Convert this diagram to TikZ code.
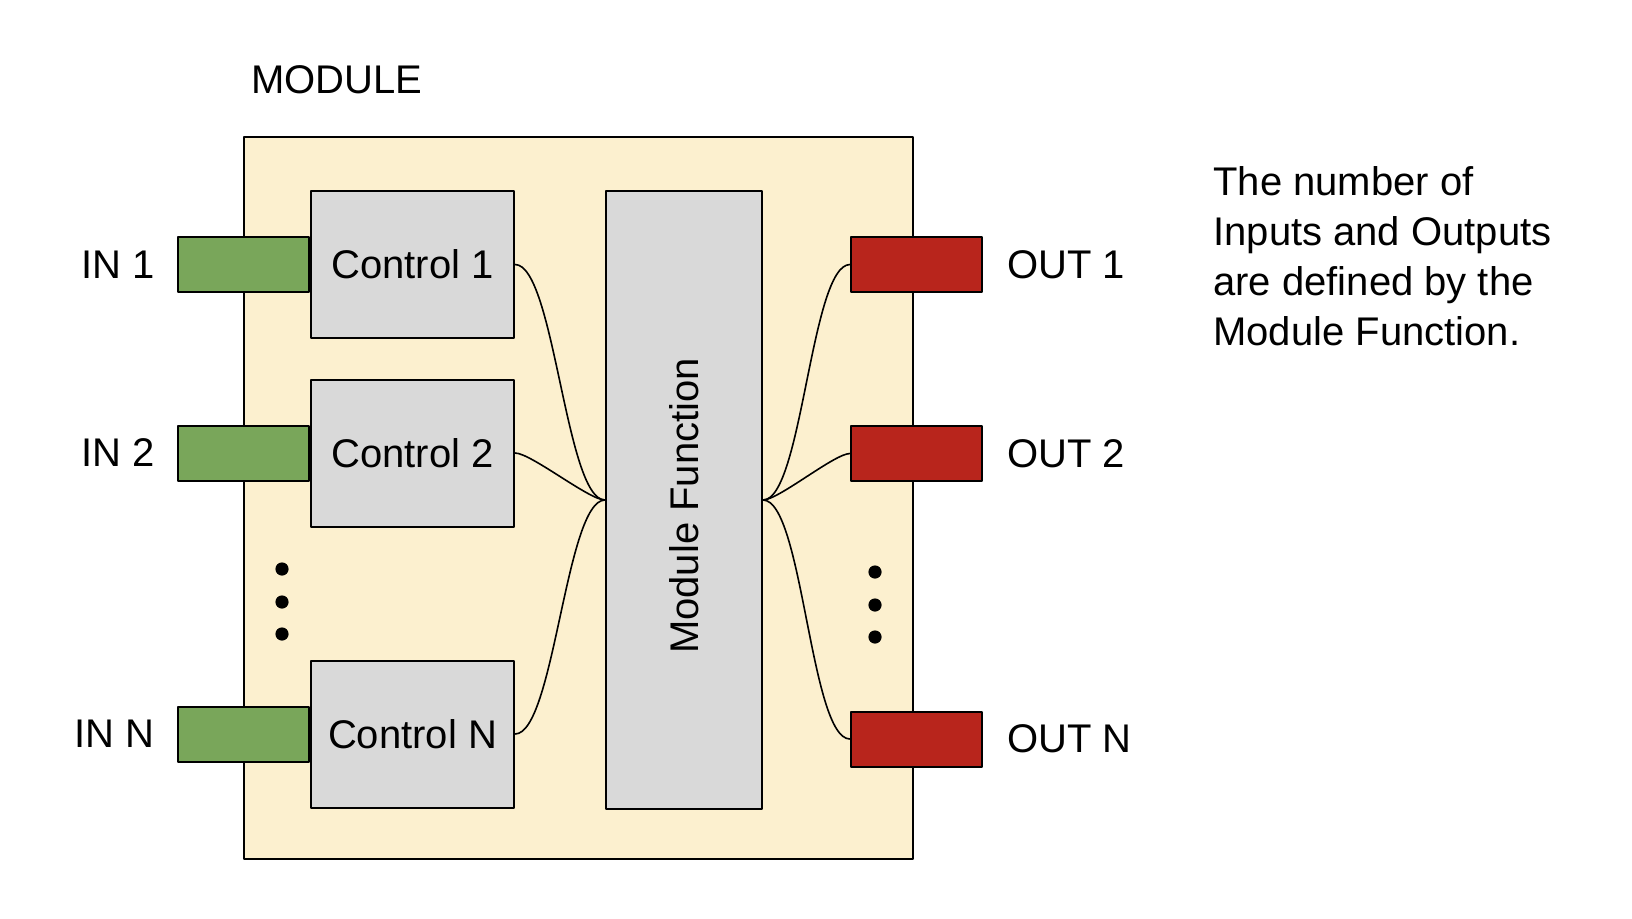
\documentclass[tikz,border=0pt]{standalone}
\usepackage{fontspec}
\setmainfont{Liberation Sans}
\usetikzlibrary{positioning}
\definecolor{modfill}{HTML}{FCF0CF}
\definecolor{boxgrey}{HTML}{D9D9D9}
\definecolor{ingreen}{HTML}{79A65A}
\definecolor{outred}{HTML}{B8251C}
\begin{document}
\begin{tikzpicture}[x=0.5pt,y=-0.5pt,line cap=round,line join=round,
	font=\fontsize{20}{25}\selectfont,
	frame/.style={draw=black,line width=1pt,inner sep=0pt},
	ctrl/.style={frame,fill=boxgrey,minimum width=101.5pt,minimum height=73.5pt},
	inport/.style={frame,fill=ingreen,minimum width=65.5pt,minimum height=27.5pt},
	outport/.style={frame,fill=outred,minimum width=65.5pt,minimum height=27.5pt},
	lbl/.style={inner sep=0pt},
	wire/.style={draw=black,line width=0.8pt,looseness=0.4}]
		\useasboundingbox (0,0) rectangle (1632,918);
		\node[frame,fill=modfill,minimum width=334.5pt,minimum height=361pt] (module) at (578.5,498) {};
		\node[lbl,anchor=west] (title) at (251,80) {MODULE};
		\node[inport] (ina) at (243.5,264.5) {};
		\node[inport] (inb) at (243.5,453) {};
		\node[inport] (inn) at (243.5,734) {};
		\node[ctrl,right=0pt of ina] (ctrla) {Control 1};
		\node[ctrl,right=0pt of inb] (ctrlb) {Control 2};
		\node[ctrl,right=0pt of inn] (ctrln) {Control N};
		\node[lbl,left=11pt of ina] (ina-l) {IN 1};
		\node[lbl,left=11pt of inb] (inb-l) {IN 2};
		\node[lbl,left=11pt of inn] (inn-l) {IN N};
		\node[frame,fill=boxgrey,minimum width=78pt,minimum height=309pt] (mf) at (684,500) {};
		\node[lbl,rotate=90] (mf-l) at (684,506) {Module Function};
		\node[outport] (outa) at (916.5,264.5) {};
		\node[outport] (outb) at (916.5,453.5) {};
		\node[outport] (outn) at (916.5,739) {};
		\node[lbl,right=12pt of outa] (outa-l) {OUT 1};
		\node[lbl,right=12pt of outb] (outb-l) {OUT 2};
		\node[lbl,right=12pt of outn] (outn-l) {OUT N};
		\foreach \y in {569,602,634}
		\fill [color=black] (282,\y) circle (3.3pt);
		\foreach \y in {572,605,637}
		\fill [color=black] (875,\y) circle (3.3pt);
		\draw[wire] (ctrla.east) to[out=0,in=180] (mf.west);
		\draw[wire] (ctrlb.east) to[out=0,in=180] (mf.west);
		\draw[wire] (ctrln.east) to[out=0,in=180] (mf.west);
		\draw[wire] (mf.east) to[out=0,in=180] (outa.west);
		\draw[wire] (mf.east) to[out=0,in=180] (outb.west);
		\draw[wire] (mf.east) to[out=0,in=180] (outn.west);
		\node[lbl,anchor=north west,align=left] (note) at (1213,166) {The number of\\Inputs and Outputs\\are defined by the\\Module Function.};
\end{tikzpicture}
\end{document}
